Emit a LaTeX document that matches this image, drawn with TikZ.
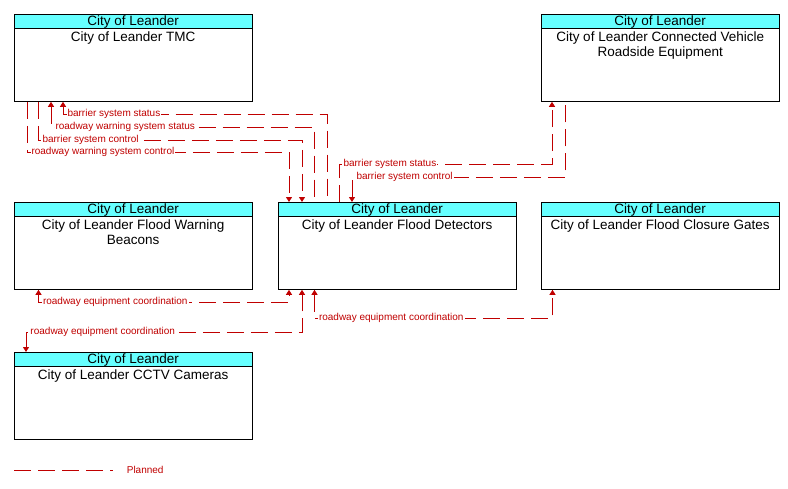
\documentclass[tikz,border=0pt]{standalone}
\usepackage{fontspec}
\setmainfont{Liberation Sans}
\usetikzlibrary{arrows.meta,positioning}
\definecolor{hdrcyan}{RGB}{102,255,255}
\definecolor{flowred}{RGB}{192,0,0}
\tikzset{
  hdr/.style={draw, fill=hdrcyan, minimum width=238, minimum height=14, inner sep=0pt,
    text height=10.5pt, text depth=1.5pt, anchor=north west, font=\fontsize{13.5}{15}\selectfont},
  sys/.style={draw, minimum width=238, minimum height=73, inner sep=0pt},
  systxt/.style={anchor=north, inner sep=3.5pt, align=center, font=\fontsize{13.5}{15}\selectfont},
  flow/.style={draw=flowred, line width=1pt, dash pattern=on 17pt off 7pt,
    >={Triangle[length=5pt,width=6pt]}},
  lbl/.style={anchor=west, xshift=3pt, inner sep=1pt, fill=white, text=flowred,
    font=\fontsize{10}{12}\selectfont}
}
\begin{document}
\begin{tikzpicture}[x=1pt,y=-1pt]
    \useasboundingbox (0,0) rectangle (788,488);
    % Sistemi
    \node[hdr] (tmch) at (14,14) {City of Leander};
    \node[sys, below=0pt of tmch, label={[systxt]north:City of Leander TMC}] (tmc) {};
    \node[hdr] (rseh) at (541,14) {City of Leander};
    \node[sys, below=0pt of rseh, label={[systxt]north:City of Leander Connected Vehicle\\Roadside Equipment}] (rse) {};
    \node[hdr] (beach) at (14,202) {City of Leander};
    \node[sys, below=0pt of beach, label={[systxt]north:City of Leander Flood Warning\\Beacons}] (beac) {};
    \node[hdr] (deth) at (278,202) {City of Leander};
    \node[sys, below=0pt of deth, label={[systxt]north:City of Leander Flood Detectors}] (det) {};
    \node[hdr] (gatesh) at (541,202) {City of Leander};
    \node[sys, below=0pt of gatesh, label={[systxt]north:City of Leander Flood Closure Gates}] (gates) {};
    \node[hdr] (cctvh) at (14,352) {City of Leander};
    \node[sys, below=0pt of cctvh, label={[systxt]north:City of Leander CCTV Cameras}] (cctv) {};
    % TMC - Flood Detectors
    \draw[flow,<-] ([xshift=49]tmc.south west) |- node[lbl]{barrier system status} (327,114) -- ([xshift=49]deth.north west);
    \draw[flow,<-] ([xshift=37]tmc.south west) |- node[lbl]{roadway warning system status} (314,127) -- ([xshift=36]deth.north west);
    \draw[flow,->] ([xshift=24]tmc.south west) |- node[lbl]{barrier system control} (302,140) -- ([xshift=24]deth.north west);
    \draw[flow,->] ([xshift=13]tmc.south west) |- node[lbl]{roadway warning system control} (289,152) -- ([xshift=11]deth.north west);
    % RSE - Flood Detectors
    \draw[flow,->] ([xshift=61]deth.north west) |- node[lbl]{barrier system status} (552,164) -- ([xshift=11]rse.south west);
    \draw[flow,<-] ([xshift=74]deth.north west) |- node[lbl]{barrier system control} (565,177) -- ([xshift=24]rse.south west);
    % Coordinamento
    \draw[flow,<->] ([xshift=24.5]beac.south west) |- node[lbl]{roadway equipment coordination} (289,302) -- ([xshift=11]det.south west);
    \draw[flow,<->] ([xshift=36.5]det.south west) |- node[lbl]{roadway equipment coordination} (552.5,318) -- ([xshift=11.5]gates.south west);
    \draw[flow,<->] ([xshift=12]cctvh.north west) |- node[lbl]{roadway equipment coordination} (302,332) -- ([xshift=24]det.south west);
    % Legenda
    \coordinate (lg1) at (14,470);
    \coordinate (lg2) at (113,470);
    \draw[flow] (lg1) -- (lg2) node[right, xshift=10pt, text=flowred, font=\fontsize{10}{12}\selectfont] {Planned};
\end{tikzpicture}
\end{document}
